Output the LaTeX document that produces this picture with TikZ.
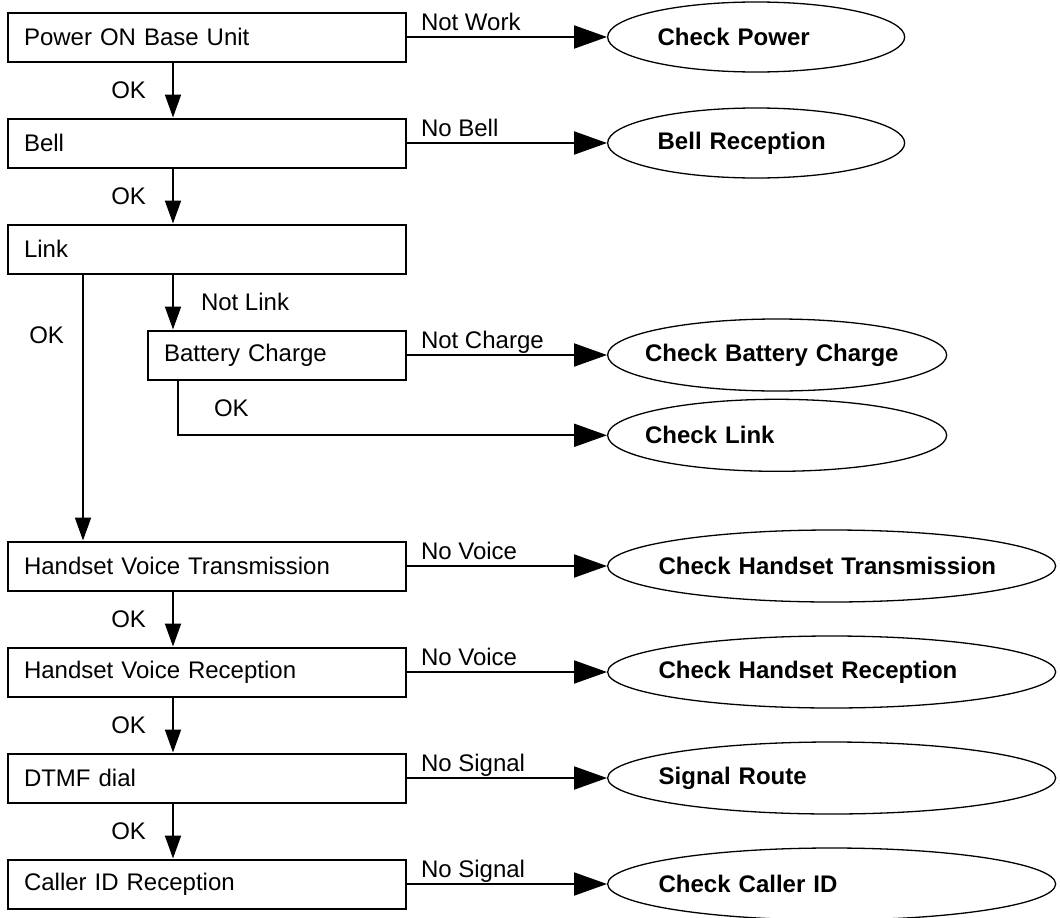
\documentclass[tikz,border=0pt]{standalone}
\usepackage{fontspec}
\setmainfont{Liberation Sans}
\usepackage{tikz}
\usetikzlibrary{shapes,arrows.meta,positioning}

\begin{document}
\begin{tikzpicture}[line width=2pt, node distance=55pt, font=\fontsize{24}{28}\selectfont]
\tikzstyle{test}=[draw, rectangle, minimum height=49pt, inner xsep=16pt, align=left]
\tikzstyle{mainbox}=[test, text width=366pt]
\tikzstyle{check}=[draw, ellipse, line width=1.3pt, inner xsep=-60pt, align=left, font=\fontsize{24}{28}\selectfont\bfseries]
\tikzstyle{shortcheck}=[check, minimum width=297pt, minimum height=70pt, text width=197pt]
\tikzstyle{midcheck}=[check, minimum width=339pt, minimum height=72pt, text width=264pt]
\tikzstyle{longcheck}=[check, minimum width=448pt, minimum height=72pt, text width=346pt]
\tikzstyle{fail}=[-{Triangle[length=33pt,width=23pt]}]
\tikzstyle{pass}=[-{Triangle[length=23pt,width=16pt]}]
\tikzstyle{why}=[pos=0, anchor=south west, inner sep=0pt, text depth=0pt, xshift=13pt, yshift=6pt]
\tikzstyle{ok}=[left=26pt, inner sep=0pt]
\useasboundingbox (0,0) rectangle (1060pt,-918pt);
\coordinate (okcol) at (173pt,0);
\coordinate (linkcol) at (83pt,0);
\coordinate (battcol) at (178pt,0);
% test chain
\node[mainbox] (power) at (207pt,-37pt) {Power ON Base Unit};
\node[mainbox][below=of power] (bell) {Bell};
\node[mainbox][below=of bell] (link) {Link};
\node[test, text width=226pt][below=of link.south east, anchor=north east] (batt) {Battery Charge};
\node[mainbox][below=266pt of link] (hvt) {Handset Voice Transmission};
\node[mainbox][below=of hvt] (hvr) {Handset Voice Reception};
\node[mainbox][below=of hvr] (dtmf) {DTMF dial};
\node[mainbox][below=of dtmf] (cid) {Caller ID Reception};
% what to check
\node[shortcheck][right=200pt of power] (chkpower) {Check Power};
\node[shortcheck][right=200pt of bell] (chkbell) {Bell Reception};
\node[midcheck][right=200pt of batt] (chkbatt) {Check Battery Charge};
\node[midcheck][below=7pt of chkbatt] (chklink) {Check Link};
\node[longcheck][right=200pt of hvt] (chkhvt) {Check Handset Transmission};
\node[longcheck][right=200pt of hvr] (chkhvr) {Check Handset Reception};
\node[longcheck][right=200pt of dtmf] (chkdtmf) {Signal Route};
\node[longcheck][right=200pt of cid] (chkcid) {Check Caller ID};
\path (power.south -| okcol) edge[pass] node[ok]{OK} (bell.north -| okcol)
      (bell.south -| okcol) edge[pass] node[ok]{OK} (link.north -| okcol)
      (link.south -| okcol) edge[pass] node[right=27pt, inner sep=0pt]{Not Link} (batt.north -| okcol)
      (link.south -| linkcol) edge[pass] node[pos=.23, left=18pt, inner sep=0pt]{OK} (hvt.north -| linkcol)
      (hvt.south -| okcol) edge[pass] node[ok]{OK} (hvr.north -| okcol)
      (hvr.south -| okcol) edge[pass] node[ok]{OK} (dtmf.north -| okcol)
      (dtmf.south -| okcol) edge[pass] node[ok]{OK} (cid.north -| okcol);
\path (power) edge[fail] node[why]{Not Work} (chkpower)
      (bell) edge[fail] node[why]{No Bell} (chkbell)
      (batt) edge[fail] node[why]{Not Charge} (chkbatt)
      (hvt) edge[fail] node[why]{No Voice} (chkhvt)
      (hvr) edge[fail] node[why]{No Voice} (chkhvr)
      (dtmf) edge[fail] node[why]{No Signal} (chkdtmf)
      (cid) edge[fail] node[why]{No Signal} (chkcid);
\draw[fail] (batt.south -| battcol) |- node[pos=.25, right=35pt, inner sep=0pt]{OK} (chklink);
\end{tikzpicture}
\end{document}
